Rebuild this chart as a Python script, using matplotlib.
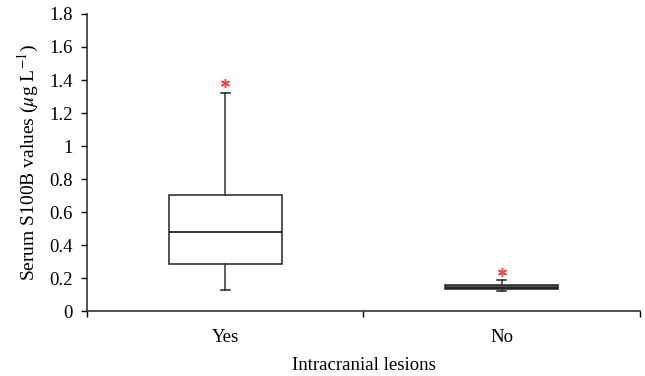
import matplotlib
matplotlib.use('Agg')
import matplotlib.pyplot as plt

plt.rcParams['font.family'] = ['Liberation Serif', 'DejaVu Serif']
plt.rcParams['mathtext.fontset'] = 'stix'

groups = ['Yes', 'No']
whisker_low = [0.132, 0.126]
q1 = [0.289, 0.136]
median = [0.479, 0.142]
q3 = [0.702, 0.161]
whisker_high = [1.324, 0.188]
outlier = [1.384, 0.24]
box_fill = ['white', '#555555']

positions = [0.5, 1.5]

fig = plt.figure(figsize=(6.45, 3.76), dpi=100)
ax = fig.add_axes([0.135, 0.172, 0.857, 0.791])

stats = []
for i, g in enumerate(groups):
    stats.append({'label': g, 'whislo': whisker_low[i], 'q1': q1[i], 'med': median[i],
                  'q3': q3[i], 'whishi': whisker_high[i], 'fliers': []})

bp = ax.bxp(stats, positions=positions, widths=0.41, patch_artist=True,
            showfliers=False, manage_ticks=False,
            boxprops=dict(edgecolor='#222222', linewidth=1.1),
            medianprops=dict(color='#222222', linewidth=1.3),
            whiskerprops=dict(color='#333333', linewidth=1.1),
            capprops=dict(color='#222222', linewidth=1.1),
            capwidths=0.034)
for patch, c in zip(bp['boxes'], box_fill):
    patch.set_facecolor(c)

ax.plot(positions, outlier, linestyle='none', marker=(6, 2, 0), ms=6.5,
        mec='#ff3b3b', mew=1.0)

ax.set_xlim(0, 2)
ax.set_ylim(0, 1.8)
ax.set_yticks([0, 0.2, 0.4, 0.6, 0.8, 1.0, 1.2, 1.4, 1.6, 1.8])
ax.set_yticklabels(['0', '0.2', '0.4', '0.6', '0.8', '1', '1.2', '1.4', '1.6', '1.8'])
ax.set_xticks([0, 1, 2])
ax.set_xticklabels([])
ax.set_xticks(positions, minor=True)
ax.set_xticklabels(groups, minor=True)
ax.tick_params(axis='x', which='minor', length=0, pad=13, labelsize=13.5)
ax.tick_params(axis='x', which='major', direction='out', length=4, width=1)
ax.tick_params(axis='y', direction='out', length=4.5, width=1, labelsize=13.5, pad=6)

for s in ['top', 'right']:
    ax.spines[s].set_visible(False)
for s in ['left', 'bottom']:
    ax.spines[s].set_linewidth(1.1)
    ax.spines[s].set_color('#222222')

ax.set_xlabel('Intracranial lesions', fontsize=13.5, labelpad=8)
ax.set_ylabel(r'Serum S100B values ($\mu$g L$^{-1}$)', fontsize=14, labelpad=6)

fig.savefig('out.png', dpi=100)
